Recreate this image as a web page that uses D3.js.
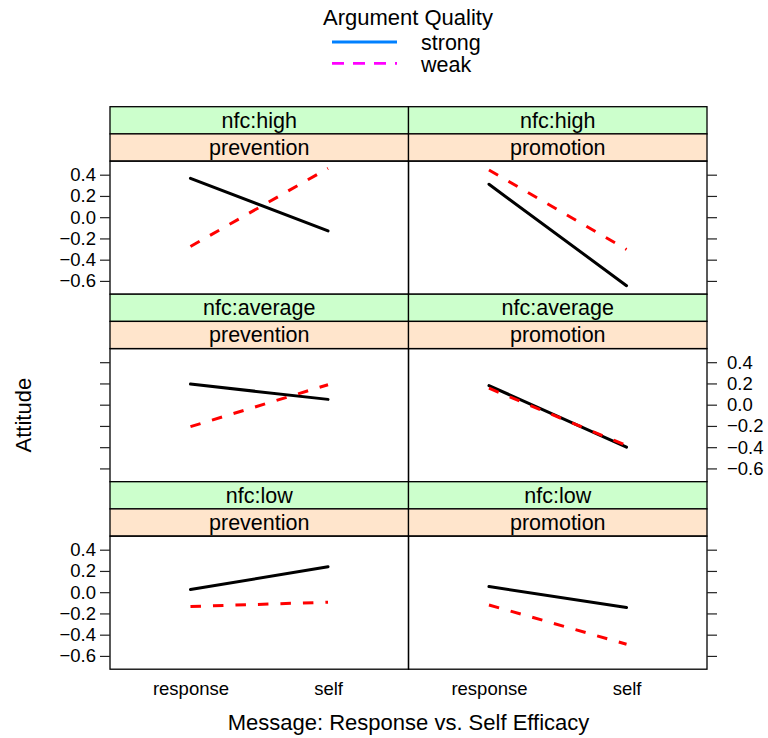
<!DOCTYPE html>
<html>
<head>
<meta charset="utf-8">
<script src="https://cdn.jsdelivr.net/npm/d3@7"></script>
<style>
  html, body { margin: 0; padding: 0; background: #fff; }
  text { font-family: "Liberation Sans", Arial, Helvetica, sans-serif; fill: #000; }
</style>
</head>
<body>
<svg id="chart" width="768" height="738"></svg>
<script>
// Conditioning levels (rows top to bottom, columns left to right)
const nfcLevels = ["high", "average", "low"];
const focusLevels = ["prevention", "promotion"];
const messageLevels = ["response", "self"];
const qualityLevels = ["strong", "weak"];

// Attitude means per nfc row: [response, self]
const strongPrevention = [[0.366, -0.129], [0.194, 0.050], [0.025, 0.240]];
const strongPromotion  = [[0.310, -0.645], [0.180, -0.400], [0.053, -0.145]];
const weakPrevention   = [[-0.276, 0.460], [-0.207, 0.188], [-0.135, -0.094]];
const weakPromotion    = [[0.444, -0.304], [0.155, -0.385], [-0.120, -0.490]];

const yTicks = [-0.6, -0.4, -0.2, 0.0, 0.2, 0.4];

// Panel lines vs. legend keys
const panelColors = { strong: "#000000", weak: "#ff0000" };
const keyColors = { strong: "#0080ff", weak: "#ff00ff" };

const svg = d3.select("#chart");

// Layout
const left = 110, panelW = 298.5;
const top0 = 106.7, rowH = 187.5, stripH = 27.2;
const panelH = rowH - 2 * stripH;
const tickFont = 18.5, stripFont = 21.5, titleFont = 22, keyFont = 21.5;

const x = d3.scaleLinear().domain([0.415, 2.585]).range([0, panelW]);
const y = d3.scaleLinear().domain([-0.725, 0.528]).range([panelH, 0]);
const fmt = d3.format(".1f");

const seriesFor = {
  prevention: { strong: strongPrevention, weak: weakPrevention },
  promotion:  { strong: strongPromotion,  weak: weakPromotion }
};

const line = d3.line().x((d, i) => x(i + 1)).y(d => y(d));

nfcLevels.forEach((nfc, r) => {
  focusLevels.forEach((focus, c) => {
    const gx = left + c * panelW;
    const gy = top0 + r * rowH;
    const g = svg.append("g").attr("transform", `translate(${gx},${gy})`);

    // Strips: nfc on top (green), focus below (peach)
    [["nfc:" + nfc, "#ccffcc"], [focus, "#ffe5cc"]].forEach(([label, fill], k) => {
      g.append("rect")
        .attr("x", 0).attr("y", k * stripH)
        .attr("width", panelW).attr("height", stripH)
        .attr("fill", fill).attr("stroke", "#000").attr("stroke-width", 1.3);
      g.append("text")
        .attr("x", panelW / 2).attr("y", k * stripH + stripH / 2 + 7.5)
        .attr("text-anchor", "middle")
        .attr("font-size", stripFont)
        .text(label);
    });

    const p = g.append("g").attr("transform", `translate(0,${2 * stripH})`);

    // Lines for each argument quality
    qualityLevels.forEach(q => {
      p.append("path")
        .datum(seriesFor[focus][q][r])
        .attr("d", line)
        .attr("fill", "none")
        .attr("stroke", panelColors[q])
        .attr("stroke-width", 3)
        .attr("stroke-linecap", q === "weak" ? "butt" : "round")
        .attr("stroke-dasharray", q === "weak" ? "10.5,12" : null);
    });

    p.append("rect")
      .attr("width", panelW).attr("height", panelH)
      .attr("fill", "none").attr("stroke", "#000").attr("stroke-width", 1.3);

    // Y axes: labels alternate between left and right by row
    const labelsLeft = (r % 2 === 0);
    if (c === 0) {
      const ax = d3.axisLeft(y).tickValues(yTicks).tickSize(10).tickPadding(4)
        .tickFormat(labelsLeft ? fmt : () => "");
      const a = p.append("g").call(ax);
      a.select(".domain").remove();
      a.selectAll("line").attr("stroke", "#222").attr("stroke-width", 1.2);
      a.selectAll("text").attr("font-size", tickFont).attr("font-family", null).attr("fill", "#000");
    } else {
      const ax = d3.axisRight(y).tickValues(yTicks).tickSize(10).tickPadding(10)
        .tickFormat(labelsLeft ? () => "" : fmt);
      const a = p.append("g").attr("transform", `translate(${panelW},0)`).call(ax);
      a.select(".domain").remove();
      a.selectAll("line").attr("stroke", "#222").attr("stroke-width", 1.2);
      a.selectAll("text").attr("font-size", tickFont).attr("font-family", null).attr("fill", "#000");
    }

    // X axis labels on the bottom row only
    if (r === nfcLevels.length - 1) {
      const ax = d3.axisBottom(x).tickValues([1, 2]).tickSize(0).tickPadding(13)
        .tickFormat(d => messageLevels[d - 1]);
      const a = p.append("g").attr("transform", `translate(0,${panelH})`).call(ax);
      a.select(".domain").remove();
      a.selectAll("text").attr("font-size", tickFont).attr("font-family", null).attr("fill", "#000");
    }
  });
});

// Axis titles
svg.append("text")
  .attr("x", left + panelW).attr("y", 730)
  .attr("text-anchor", "middle").attr("font-size", titleFont)
  .text("Message: Response vs. Self Efficacy");

svg.append("text")
  .attr("transform", `translate(31,${top0 + 1.5 * rowH + stripH}) rotate(-90)`)
  .attr("text-anchor", "middle").attr("font-size", titleFont)
  .text("Attitude");

// Legend
const legend = svg.append("g");
legend.append("text")
  .attr("x", 408).attr("y", 25)
  .attr("text-anchor", "middle").attr("font-size", titleFont)
  .text("Argument Quality");

const keyRows = [{ line: 42, text: 49.5 }, { line: 63.3, text: 72 }];
qualityLevels.forEach((q, i) => {
  legend.append("line")
    .attr("x1", 332).attr("x2", 397)
    .attr("y1", keyRows[i].line).attr("y2", keyRows[i].line)
    .attr("stroke", keyColors[q]).attr("stroke-width", 2.8)
    .attr("stroke-dasharray", q === "weak" ? "12,9" : null);
  legend.append("text")
    .attr("x", 421).attr("y", keyRows[i].text)
    .attr("font-size", keyFont)
    .text(q);
});
</script>
</body>
</html>
